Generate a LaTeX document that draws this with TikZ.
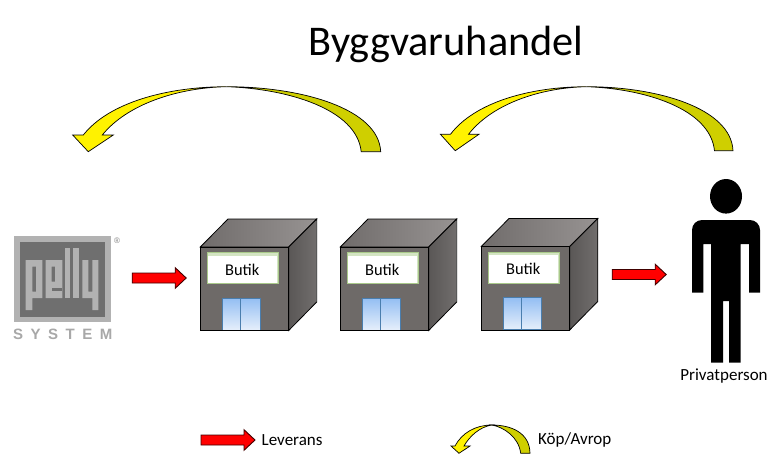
\documentclass[tikz,border=0pt]{standalone}
\usepackage{fontspec}
\setmainfont{Carlito}
\newfontfamily\logofont{Liberation Sans}[LetterSpace=50]
\newfontfamily\regfont{Liberation Sans}
\definecolor{frontgray}{HTML}{6E6A68}
\definecolor{topleft}{HTML}{706C6B}
\definecolor{topright}{HTML}{979392}
\definecolor{sideleft}{HTML}{5A5756}
\definecolor{sideright}{HTML}{716E6D}
\definecolor{signedge}{HTML}{A9C98A}
\definecolor{signfill}{HTML}{D3E4C2}
\definecolor{doortop}{HTML}{93BEF3}
\definecolor{doorbottom}{HTML}{E6EFFB}
\definecolor{doorline}{HTML}{4A7EAE}
\definecolor{logolight}{HTML}{B2B2B2}
\definecolor{logodark}{HTML}{6F6F6F}
\definecolor{logotext}{HTML}{A8A8A8}
\definecolor{arrowdark}{HTML}{CFCF00}
\tikzset{
  x=1pt,y=-1pt,
  outline/.style={draw=black,line width=0.8pt,line join=miter},
  bandback/.style={fill=arrowdark,draw=black,line width=0.7pt},
  bandfront/.style={fill=yellow,draw=black,line width=0.7pt},
  redarrow/.pic={
    \path[fill=red,draw=black!75!red,line width=0.9pt]
      (-27,-5)--(16,-5)--(16,-10.3)--(27,0)--(16,10.3)--(16,5)--(-27,5)--cycle;
  },
  curvearrow/.pic={
    \path[bandback]
      (0,0) .. controls (75,0) and (152,22) .. (154,65)
      -- (134.5,65) .. controls (130,22) and (60,2) .. (0,0) -- cycle;
    \path[bandfront]
      (0,0) .. controls (-60,0) and (-118,16) .. (-143.4,48.3)
      -- (-154,48.3) -- (-138.4,65) -- (-113.4,48.3) -- (-124.4,48.3)
      .. controls (-100,18) and (-50,1) .. (0,0) -- cycle;
  },
  smallcurve/.pic={
    \path[bandback]
      (0,0) .. controls (20,0) and (38,8) .. (38.3,28.3)
      -- (29,28.3) .. controls (27,12) and (12,2) .. (0,0) -- cycle;
    \path[bandfront]
      (0,0) .. controls (-16,0) and (-30,8) .. (-36.7,21)
      -- (-40.7,21) -- (-32.7,28.3) -- (-21.7,21) -- (-27.7,21)
      .. controls (-22,11) and (-12,2) .. (0,0) -- cycle;
  },
  shop/.pic={
    \path[outline,left color=topleft,right color=topright]
      (0,0)--(27.7,-28)--(116.4,-28)--(88.4,0)--cycle;
    \path[outline,left color=sideleft,right color=sideright]
      (88.4,0)--(116.4,-28)--(116.4,55)--(88.4,83.5)--cycle;
    \path[outline,fill=frontgray] (0,0) rectangle (88.4,83.5);
    \path[fill=signfill,draw=signedge,line width=0.7pt] (7,5.5) rectangle (78,36.5);
    \node[fill=white,inner sep=0pt,minimum width=68.5pt,minimum height=27.5pt,
          anchor=north west,font=\fontsize{16.4}{19}\selectfont] (sign) at (7.5,8.5) {Butik};
    \path[top color=doortop,bottom color=doorbottom,draw=doorline,line width=0.7pt]
      (22.5,51) rectangle (60,83);
    \draw[doorline,line width=0.7pt] (40,51) -- (40,83);
    \path[outline,fill=none] (0,0) rectangle (88.4,83.5);
  },
  logoletter/.style={fill=logolight,even odd rule}
}
\begin{document}
\begin{tikzpicture}
\path[use as bounding box,fill=white] (0,0) rectangle (778,458);

\node[font=\fontsize{42.3}{50}\selectfont] (title) at (446,44) {Byggvaruhandel};

\pic at (226.7,86.7) {curvearrow};
\pic[xscale=0.95,yscale=0.985] at (586.7,86.7) {curvearrow};

% logo
\fill[logolight] (14,236) rectangle (110.5,322);
\fill[logodark] (20,242) rectangle (104.5,317);
% p
\path[logoletter] (25.7,260) -- (42.3,260) -- (42.3,298) -- (32.3,298) -- (32.3,310) -- (25.7,310) -- cycle
  (32.3,266.7) rectangle (36,291.7);
% e
\path[logoletter] (45.7,260) rectangle (62.3,298) (51.7,266.7) rectangle (55,281.7);
\fill[logodark] (51.7,288.3) rectangle (62.3,291);
% l l
\path[logoletter] (64.5,248.3) rectangle (70.3,298);
\path[logoletter] (73.3,248.3) rectangle (79,298);
% y
\path[logoletter] (82.3,260) -- (88.3,260) -- (88.3,291.7) -- (92.3,291.7) -- (92.3,260) -- (98.3,260)
  -- (98.3,310) -- (92.3,310) -- (92.3,298) -- (82.3,298) -- cycle;
\node[font=\regfont\fontsize{8}{9}\selectfont,text=gray,inner sep=0pt] (reg) at (117,240.5) {®};
\node[font=\logofont\bfseries\fontsize{15}{16}\selectfont,text=logotext,inner sep=0pt,anchor=west] (sys) at (13,334.5) {SYSTEM};

\pic (shopa) at (200.3,247) {shop};
\pic (shopb) at (340.3,247) {shop};
\pic (shopc) at (481.3,246.5) {shop};

\pic at (159.2,278) {redarrow};
\pic at (639.2,274.5) {redarrow};
\pic at (228,440) {redarrow};

% person
\fill[black] (726,196.3) ellipse[x radius=16,y radius=17.3];
\fill[black] (692,292.7) -- (692,230) arc[start angle=180,end angle=270,radius=10]
  -- (750,220) arc[start angle=270,end angle=360,radius=10] -- (760,292.7) -- (749,292.7)
  -- (749,244) -- (740.7,244) -- (740.7,362.7) -- (729,362.7) -- (729,301) -- (723,301)
  -- (723,362.7) -- (711,362.7) -- (711,244) -- (703.3,244) -- (703.3,292.7) -- cycle;
\node[font=\fontsize{17}{20}\selectfont,inner sep=0pt] (priv) at (724,376) {Privatperson};

% legend
\node[font=\fontsize{17}{20}\selectfont,inner sep=0pt,anchor=west] (lev) at (261.5,440) {Leverans};
\pic at (491.7,425) {smallcurve};
\node[font=\fontsize{17}{20}\selectfont,inner sep=0pt,anchor=west] (kop) at (538,440) {Köp/Avrop};
\end{tikzpicture}
\end{document}
